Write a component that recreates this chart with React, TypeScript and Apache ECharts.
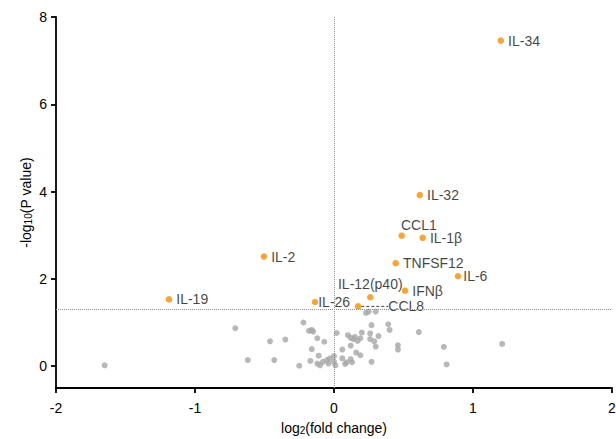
import React, { useEffect, useRef } from 'react';
import * as echarts from 'echarts';

// Highlighted (significant) cytokines
const hitNames = ['IL-34', 'IL-32', 'CCL1', 'IL-1β', 'TNFSF12', 'IL-6', 'IFNβ', 'IL-12(p40)', 'CCL8', 'IL-26', 'IL-2', 'IL-19'];
const hitLog2FC = [1.2, 0.617, 0.487, 0.638, 0.444, 0.892, 0.511, 0.261, 0.173, -0.137, -0.504, -1.187];
const hitNegLogP = [7.46, 3.92, 2.99, 2.94, 2.36, 2.06, 1.73, 1.58, 1.37, 1.47, 2.51, 1.53];

// Non-significant analytes
const otherLog2FC = [
  -1.65, -0.71, -0.62, -0.46, -0.43, -0.35, -0.22, -0.18, -0.16, -0.15, -0.12, -0.07, -0.16, -0.11, -0.17,
  -0.25, -0.12, -0.1, -0.08, -0.05, -0.04, -0.03, 0.0, 0.0, 0.01, 0.02, 0.1, 0.12, 0.14, 0.15, 0.2, 0.19,
  0.17, 0.12, 0.06, 0.16, 0.19, 0.06, 0.09, 0.12, 0.08, 0.13, 0.27, 0.26, 0.26, 0.32, 0.29, 0.39, 0.4, 0.3,
  0.46, 0.46, 0.61, 0.79, 0.81, 1.21, 0.27, 0.23, 0.25, 0.3,
];
const otherNegLogP = [
  0.02, 0.87, 0.14, 0.57, 0.14, 0.61, 1.0, 0.81, 0.83, 0.79, 0.64, 0.56, 0.39, 0.24, 0.12,
  0.01, 0.06, 0.02, 0.1, 0.14, 0.06, 0.18, 0.23, 0.1, 0.02, 0.76, 0.71, 0.65, 0.62, 0.67, 0.77, 0.64,
  0.58, 0.47, 0.38, 0.31, 0.25, 0.18, 0.09, 0.16, 0.05, 0.09, 0.94, 0.75, 0.62, 0.69, 0.57, 0.96, 0.83, 0.45,
  0.48, 0.38, 0.78, 0.44, 0.04, 0.51, 0.1, 1.22, 1.25, 1.25,
];

const xTicks = [-2, -1, 0, 1, 2];
const yTicks = [0, 2, 4, 6, 8];
const pThreshold = 1.301; // -log10(0.05)

const FONT = '"Liberation Sans", Arial, sans-serif';

const labelShift: Record<string, [number, number]> = {
  CCL1: [-8, -11],
  'IL-26': [-4, 0],
  'IL-6': [-2, 0],
  CCL8: [23, 0],
};

const richTitle = {
  a: { fontSize: 14, lineHeight: 14, verticalAlign: 'top', fontFamily: FONT, color: '#000' },
  s: { fontSize: 10, lineHeight: 10, verticalAlign: 'bottom', padding: [11, 0, 0, 0], fontFamily: FONT, color: '#000' },
};

export default function App() {
  const ref = useRef<HTMLDivElement>(null);
  useEffect(() => {
    document.body.style.margin = '0';
    if (!ref.current) return;
    const chart = echarts.init(ref.current, undefined, { renderer: 'svg' });
    const hitData = hitNames.map((n, i) => {
      const item: any = { name: n, value: [hitLog2FC[i], hitNegLogP[i]] };
      if (n === 'IL-12(p40)') item.label = { position: 'top', distance: 3 };
      if (n === 'CCL8') item.labelLine = { show: true, lineStyle: { type: [3, 2], color: '#444', width: 1 } };
      return item;
    });
    const otherData = otherLog2FC.map((x, i) => [x, otherNegLogP[i]]);
    chart.setOption({
      animation: false,
      textStyle: { fontFamily: FONT },
      grid: { left: 56, right: 4, top: 17, bottom: 51, containLabel: false, outerBoundsMode: 'none' },
      xAxis: {
        type: 'value',
        min: xTicks[0],
        max: xTicks[xTicks.length - 1],
        interval: 1,
        splitLine: { show: false },
        axisLine: { onZero: false, lineStyle: { color: '#000', width: 1.8 } },
        axisTick: { show: true, length: 5, lineStyle: { color: '#000', width: 1.8 } },
        axisLabel: { color: '#000', fontSize: 14, fontFamily: FONT, margin: 13 },
        name: '{a|log}{s|2}{a|(fold change)}',
        nameLocation: 'middle',
        nameGap: 33,
        nameMoveOverlap: false,
        nameTextStyle: { color: '#000', fontFamily: FONT, rich: richTitle },
      },
      yAxis: {
        type: 'value',
        min: -0.5,
        max: 8,
        splitLine: { show: false },
        axisLine: { onZero: false, lineStyle: { color: '#000', width: 1.8 } },
        axisTick: { show: true, length: 5, customValues: yTicks, lineStyle: { color: '#000', width: 1.8 } },
        axisLabel: { color: '#000', fontSize: 14, fontFamily: FONT, margin: 9, customValues: yTicks },
        name: '{a|-log}{s|10}{a|(P value)}',
        nameLocation: 'middle',
        nameGap: 23,
        nameMoveOverlap: false,
        nameTextStyle: { color: '#000', fontFamily: FONT, rich: richTitle },
      },
      series: [
        {
          type: 'scatter',
          data: otherData,
          symbolSize: 6,
          itemStyle: { color: '#A6A6A6' },
          silent: true,
          z: 2,
          markLine: {
            silent: true,
            symbol: 'none',
            label: { show: false },
            lineStyle: { type: 'dotted', color: '#8c8c8c', width: 1 },
            data: [{ yAxis: pThreshold }, { xAxis: 0 }],
          },
        },
        {
          type: 'scatter',
          data: hitData,
          symbolSize: 6.5,
          itemStyle: { color: '#FB8C00' },
          z: 3,
          label: {
            show: true,
            position: 'right',
            distance: 4,
            formatter: '{b}',
            color: '#111',
            fontSize: 14,
            fontFamily: FONT,
          },
          labelLayout: (p: any) => {
            const n = hitNames[p.dataIndex];
            const s = labelShift[n];
            return s ? { dx: s[0], dy: s[1] } : {};
          },
        },
      ],
    });
    return () => chart.dispose();
  }, []);
  return <div ref={ref} style={{ width: 616, height: 439 }} />;
}
